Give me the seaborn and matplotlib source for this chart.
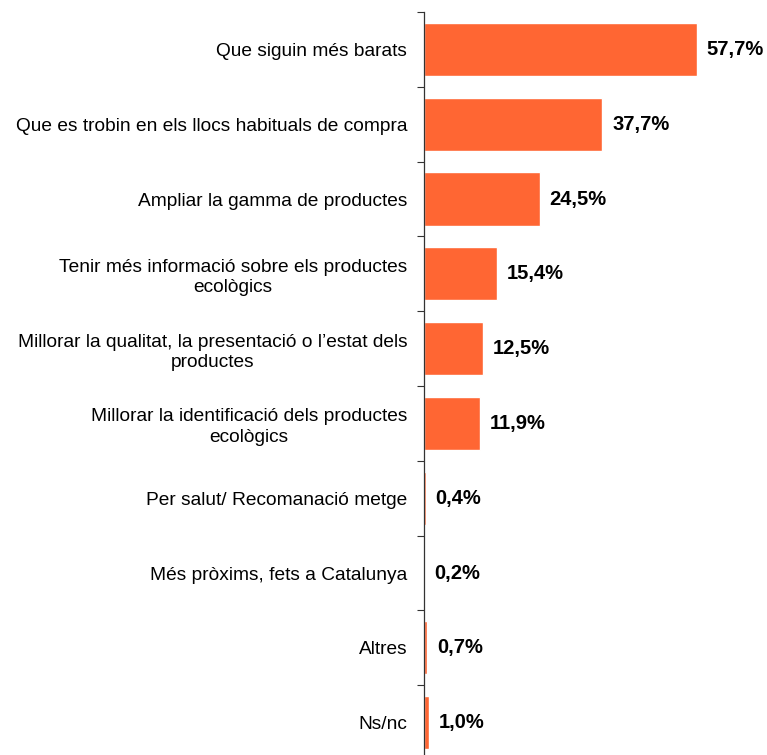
import matplotlib
matplotlib.use("Agg")
import matplotlib.pyplot as plt
import seaborn as sns
import pandas as pd
from matplotlib.ticker import FixedLocator

categories = [
    "Que siguin més barats",
    "Que es trobin en els llocs habituals de compra",
    "Ampliar la gamma de productes",
    "Tenir més informació sobre els productes\necològics",
    "Millorar la qualitat, la presentació o l\u2019estat dels\nproductes",
    "Millorar la identificació dels productes\necològics",
    "Per salut/ Recomanació metge",
    "Més pròxims, fets a Catalunya",
    "Altres",
    "Ns/nc",
]
values = [57.7, 37.7, 24.5, 15.4, 12.5, 11.9, 0.4, 0.2, 0.7, 1.0]
value_labels = ["57,7%", "37,7%", "24,5%", "15,4%", "12,5%", "11,9%", "0,4%", "0,2%", "0,7%", "1,0%"]

df = pd.DataFrame({"categoria": categories, "valor": values})

sns.set_style("white")
plt.rcParams["font.family"] = ["Liberation Sans", "DejaVu Sans"]

fig = plt.figure(figsize=(7.67, 7.55), dpi=100)
# plot area runs a few pixels past the bottom edge of the figure
ax = fig.add_axes([424 / 767, -5 / 755, 1 - 424 / 767, 748 / 755])

sns.barplot(data=df, x="valor", y="categoria", orient="h", color="#FF6633",
            saturation=1, width=0.71, ax=ax)

ax.set_xlim(0, 72.5)
ax.set_ylim(len(categories) - 0.5, -0.5)

for i, (v, lab) in enumerate(zip(values, value_labels)):
    ax.annotate(lab, xy=(v, i), xytext=(7, 0), textcoords="offset points",
                ha="left", va="center", fontsize=14.5, fontweight="bold", color="black")

ax.set_xlabel("")
ax.set_ylabel("")
ax.set_xticks([])
ax.set_yticks(range(len(categories)))
ax.set_yticklabels(categories, fontsize=13.8, color="black", multialignment="center",
                   linespacing=1.25)
ax.tick_params(axis="y", which="major", left=False, length=0, pad=12)
ax.yaxis.set_minor_locator(FixedLocator([i - 0.5 for i in range(len(categories) + 1)]))
ax.tick_params(axis="y", which="minor", left=True, length=5, width=0.8,
               color="#333333", direction="out")

for s in ["top", "right", "bottom"]:
    ax.spines[s].set_visible(False)
ax.spines["left"].set_color("#333333")
ax.spines["left"].set_linewidth(0.9)

fig.savefig("out.png", dpi=100)
